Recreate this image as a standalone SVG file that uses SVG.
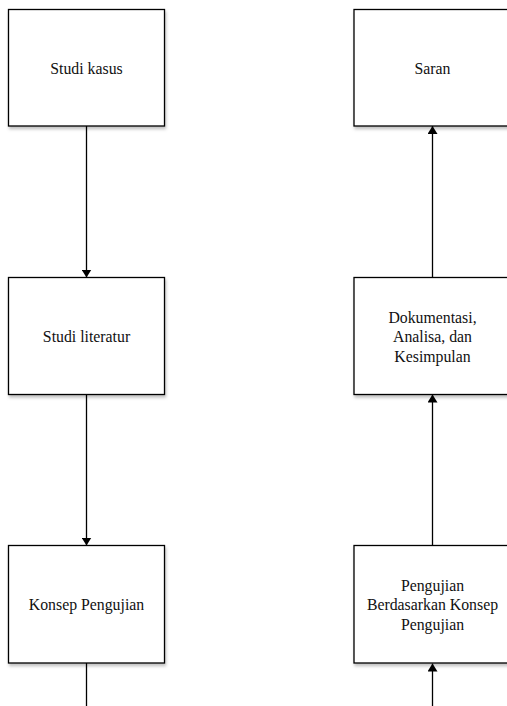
<svg xmlns="http://www.w3.org/2000/svg" width="507" height="706" viewBox="0 0 507 706">
<style>
.box{fill:#fff;stroke:#000;stroke-width:1.3;filter:url(#sh)}
.t{font-size:15.8px;fill:#111;text-anchor:middle}
.c{stroke:#000;stroke-width:1.3;fill:none}
</style>
<defs>
<filter id="sh" x="-10%" y="-10%" width="130%" height="130%">
<feDropShadow dx="1" dy="2.5" stdDeviation="1.5" flood-color="#000" flood-opacity="0.25"/>
</filter>
<marker id="ah" viewBox="0 0 8 10" refX="8" refY="5" markerWidth="8" markerHeight="10" markerUnits="userSpaceOnUse" orient="auto">
<path d="M0,0 L8,5 L0,10 z" fill="#000"/>
</marker>
</defs>
<g id="connectors">
<line class="c" x1="86.5" y1="126" x2="86.5" y2="277.5" marker-end="url(#ah)"/>
<line class="c" x1="86.5" y1="394.5" x2="86.5" y2="545.5" marker-end="url(#ah)"/>
<line class="c" x1="86.5" y1="663" x2="86.5" y2="706"/>
<line class="c" x1="432.5" y1="706" x2="432.5" y2="663.5" marker-end="url(#ah)"/>
<line class="c" x1="432.5" y1="545.5" x2="432.5" y2="394.5" marker-end="url(#ah)"/>
<line class="c" x1="432.5" y1="277.5" x2="432.5" y2="126" marker-end="url(#ah)"/>
</g>
<g font-family="Liberation Serif, serif">
<g id="studi-kasus">
<rect class="box" x="8.5" y="9.5" width="156" height="116.5"/>
<text class="t" x="86.5" y="73.5">Studi kasus</text>
</g>
<g id="studi-literatur">
<rect class="box" x="8.5" y="277.5" width="156" height="117"/>
<text class="t" x="86.5" y="341.5">Studi literatur</text>
</g>
<g id="konsep-pengujian">
<rect class="box" x="8.5" y="545.5" width="156" height="117.5"/>
<text class="t" x="86.5" y="609.5">Konsep Pengujian</text>
</g>
<g id="saran">
<rect class="box" x="354" y="9.5" width="156" height="116.5"/>
<text class="t" x="432.5" y="73.5">Saran</text>
</g>
<g id="dokumentasi">
<rect class="box" x="354" y="277.5" width="156" height="117"/>
<text class="t" x="432.5" y="322.5">Dokumentasi,</text>
<text class="t" x="432.5" y="342">Analisa, dan</text>
<text class="t" x="432.5" y="361.5">Kesimpulan</text>
</g>
<g id="pengujian">
<rect class="box" x="354" y="545.5" width="156" height="117.5"/>
<text class="t" x="432.5" y="590.5">Pengujian</text>
<text class="t" x="432.5" y="610">Berdasarkan Konsep</text>
<text class="t" x="432.5" y="629.5">Pengujian</text>
</g>
</g>
</svg>
